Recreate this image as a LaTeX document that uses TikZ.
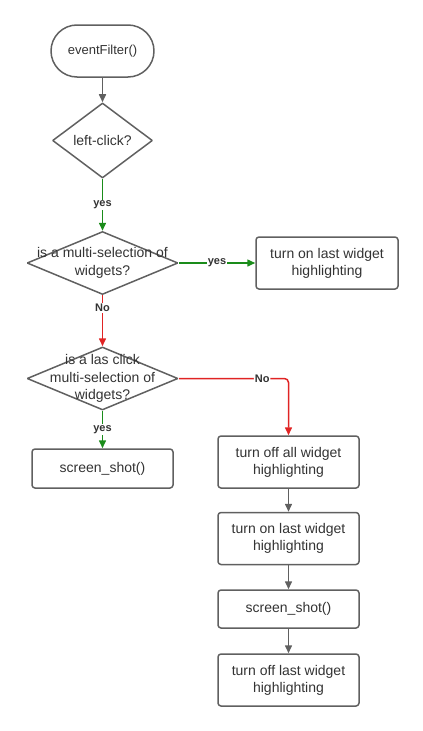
\documentclass[tikz,border=0pt]{standalone}
\usepackage{fontspec}
\setmainfont{Liberation Sans}
\usetikzlibrary{shapes.geometric,arrows.meta}
\definecolor{linegray}{HTML}{606060}
\definecolor{txtgray}{HTML}{333333}
\definecolor{yesgreen}{HTML}{1A8C1A}
\definecolor{nored}{HTML}{E02424}
\tikzset{
  box/.style={draw=linegray,line width=1.5pt,rounded corners=3pt,text=txtgray,
    font=\fontsize{14}{17}\selectfont,align=center,inner sep=0pt,
    minimum width=141pt,minimum height=52pt},
  term/.style={box,rounded corners=26pt,minimum width=103pt,minimum height=52pt,
    font=\fontsize{13}{16}\selectfont},
  dec/.style={diamond,draw=linegray,line width=1.5pt,inner sep=0pt,
    minimum width=151pt,minimum height=63pt},
  dectext/.style={text=txtgray,font=\fontsize{14}{17.5}\selectfont,align=center},
  flow/.style={->,line width=1.5pt,draw=linegray},
  yesflow/.style={flow,draw=yesgreen},
  noflow/.style={flow,draw=nored,rounded corners=4pt},
  lbl/.style={fill=white,text=txtgray,font=\bfseries\fontsize{11}{13}\selectfont,inner sep=1pt}
}
\begin{document}
\begin{tikzpicture}[>={Triangle[length=8pt,width=7pt]},line join=bevel]
\useasboundingbox (0pt,0pt) rectangle (423pt,-731pt);
%%
\node (start) at (102.5pt,-51pt) [term] {eventFilter()};
\node (leftclick) at (102.5pt,-140.5pt) [dec,minimum width=100pt,minimum height=75pt,
  label={[dectext]center:left-click?}] {};
\node (multisel) at (102.5pt,-263pt) [dec,
  label={[dectext]center:is a multi-selection of\\widgets?}] {};
\node (lastclick) at (102.5pt,-378.5pt) [dec,
  label={[dectext]center:is a las click\\multi-selection of\\widgets?}] {};
\node (highlighton) at (327pt,-263pt) [box,minimum width=142pt] {turn on last widget\\highlighting};
\node (shotleft) at (102.5pt,-468.5pt) [box,minimum height=39pt] {screen\_shot()};
\node (alloff) at (288.5pt,-462pt) [box] {turn off all widget\\highlighting};
\node (laston) at (288.5pt,-538.5pt) [box] {turn on last widget\\highlighting};
\node (shotright) at (288.5pt,-609pt) [box,minimum height=38pt] {screen\_shot()};
\node (lastoff) at (288.5pt,-680pt) [box] {turn off last widget\\highlighting};
%
\draw [flow] (start) -- (leftclick);
\draw [yesflow] (leftclick) -- node [lbl,pos=0.5] {yes} (multisel);
\draw [yesflow] (multisel) -- node [lbl] {yes} (highlighton);
\draw [noflow] (multisel) -- node [lbl,pos=0.25] {No} (lastclick);
\draw [yesflow] (lastclick) -- node [lbl] {yes} (shotleft);
\draw [noflow] (lastclick.east) -| node [lbl,pos=0.38] {No} (alloff.north);
\draw [flow] (alloff) -- (laston);
\draw [flow] (laston) -- (shotright);
\draw [flow] (shotright) -- (lastoff);
%
\end{tikzpicture}
\end{document}
